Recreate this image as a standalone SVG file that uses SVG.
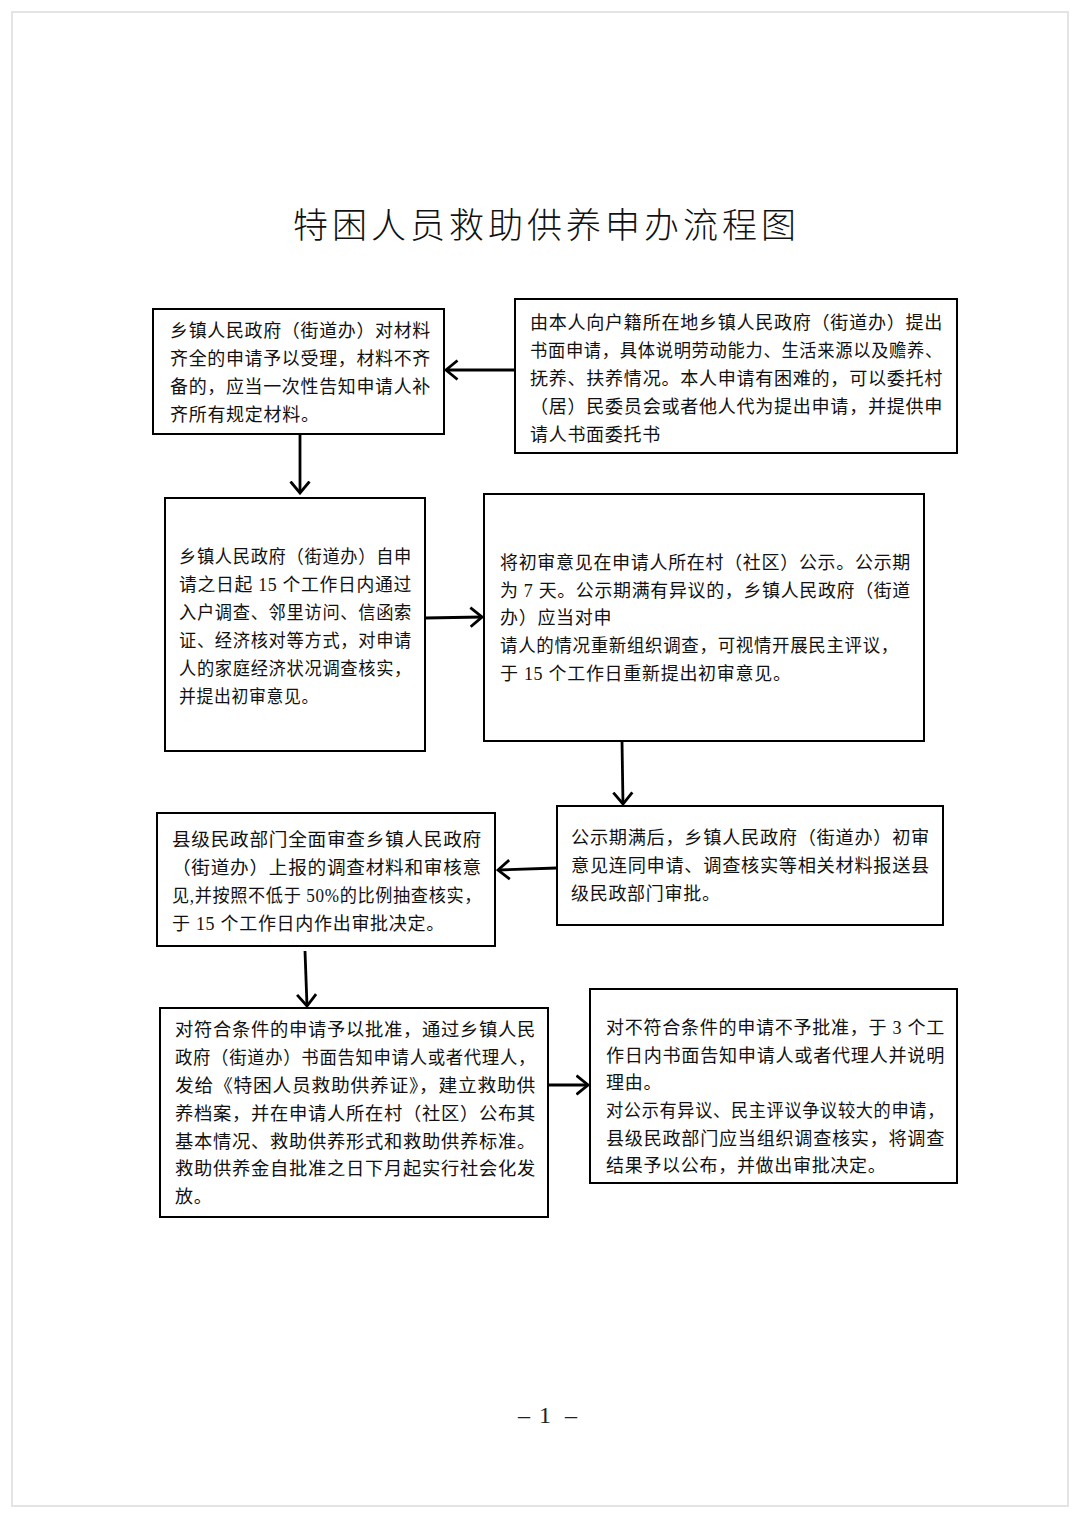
<svg xmlns="http://www.w3.org/2000/svg" width="1080" height="1517" viewBox="0 0 1080 1517">
<style>
.box{fill:#fff;stroke:#000;stroke-width:2}
.t{font-family:"Liberation Serif","Noto Sans CJK SC",serif;font-size:18px;fill:#111;letter-spacing:0.7px}
.title{font-family:"Noto Sans CJK SC",sans-serif;font-size:35px;font-weight:300;fill:#111;letter-spacing:4px}
.pg{font-family:"Liberation Serif",serif;font-size:24px;fill:#222}
.c{stroke:#000;stroke-width:2.8;fill:none}
</style>
<defs>
<marker id="ah" markerUnits="userSpaceOnUse" viewBox="0 0 14 22" markerWidth="14" markerHeight="22" refX="12.5" refY="11" orient="auto">
<path d="M1,1.5 L12.5,11 L1,20.5" fill="none" stroke="#000" stroke-width="2.8"/>
</marker>
</defs>
<rect x="0" y="0" width="1080" height="1517" fill="#fff"/>
<rect x="12" y="12" width="1056" height="1494" fill="none" stroke="#e4e4e4" stroke-width="2"/>
<text class="title" x="293" y="238">特困人员救助供养申办流程图</text>

<g id="n1">
<rect class="box" x="153" y="309" width="291" height="125"/>
<text class="t" x="170" y="337" textLength="261" lengthAdjust="spacingAndGlyphs">乡镇人民政府（街道办）对材料</text>
<text class="t" x="170" y="365" textLength="261" lengthAdjust="spacingAndGlyphs">齐全的申请予以受理，材料不齐</text>
<text class="t" x="170" y="393" textLength="261" lengthAdjust="spacingAndGlyphs">备的，应当一次性告知申请人补</text>
<text class="t" x="170" y="421">齐所有规定材料。</text>
</g>

<g id="n2">
<rect class="box" x="515" y="299" width="442" height="154"/>
<text class="t" x="530" y="329" textLength="413" lengthAdjust="spacingAndGlyphs">由本人向户籍所在地乡镇人民政府（街道办）提出</text>
<text class="t" x="530" y="357" textLength="413" lengthAdjust="spacingAndGlyphs">书面申请，具体说明劳动能力、生活来源以及赡养、</text>
<text class="t" x="530" y="385" textLength="413" lengthAdjust="spacingAndGlyphs">抚养、扶养情况。本人申请有困难的，可以委托村</text>
<text class="t" x="530" y="413" textLength="413" lengthAdjust="spacingAndGlyphs">（居）民委员会或者他人代为提出申请，并提供申</text>
<text class="t" x="530" y="441">请人书面委托书</text>
</g>

<g id="n3">
<rect class="box" x="165" y="498" width="260" height="253"/>
<text class="t" x="179" y="563" textLength="233" lengthAdjust="spacingAndGlyphs">乡镇人民政府（街道办）自申</text>
<text class="t" x="179" y="591" textLength="233" lengthAdjust="spacingAndGlyphs">请之日起 15 个工作日内通过</text>
<text class="t" x="179" y="619" textLength="233" lengthAdjust="spacingAndGlyphs">入户调查、邻里访问、信函索</text>
<text class="t" x="179" y="647" textLength="233" lengthAdjust="spacingAndGlyphs">证、经济核对等方式，对申请</text>
<text class="t" x="179" y="675" textLength="233" lengthAdjust="spacingAndGlyphs">人的家庭经济状况调查核实，</text>
<text class="t" x="179" y="703" textLength="140" lengthAdjust="spacingAndGlyphs">并提出初审意见。</text>
</g>

<g id="n4">
<rect class="box" x="484" y="494" width="440" height="247"/>
<text class="t" x="500" y="569" textLength="411" lengthAdjust="spacingAndGlyphs">将初审意见在申请人所在村（社区）公示。公示期</text>
<text class="t" x="500" y="597" textLength="411" lengthAdjust="spacingAndGlyphs">为 7 天。公示期满有异议的，乡镇人民政府（街道</text>
<text class="t" x="500" y="624">办）应当对申</text>
<text class="t" x="500" y="652" textLength="399" lengthAdjust="spacingAndGlyphs">请人的情况重新组织调查，可视情开展民主评议，</text>
<text class="t" x="500" y="680">于 15 个工作日重新提出初审意见。</text>
</g>

<g id="n5">
<rect class="box" x="557" y="806" width="386" height="119"/>
<text class="t" x="571" y="844" textLength="359" lengthAdjust="spacingAndGlyphs">公示期满后，乡镇人民政府（街道办）初审</text>
<text class="t" x="571" y="872" textLength="359" lengthAdjust="spacingAndGlyphs">意见连同申请、调查核实等相关材料报送县</text>
<text class="t" x="571" y="900">级民政部门审批。</text>
</g>

<g id="n6">
<rect class="box" x="157" y="813" width="338" height="133"/>
<text class="t" x="172" y="846" textLength="310" lengthAdjust="spacingAndGlyphs">县级民政部门全面审查乡镇人民政府</text>
<text class="t" x="172" y="874" textLength="310" lengthAdjust="spacingAndGlyphs">（街道办）上报的调查材料和审核意</text>
<text class="t" x="172" y="902" textLength="310" lengthAdjust="spacingAndGlyphs">见,并按照不低于 50%的比例抽查核实，</text>
<text class="t" x="172" y="930">于 15 个工作日内作出审批决定。</text>
</g>

<g id="n7">
<rect class="box" x="160" y="1008" width="388" height="209"/>
<text class="t" x="175" y="1036" textLength="361" lengthAdjust="spacingAndGlyphs">对符合条件的申请予以批准，通过乡镇人民</text>
<text class="t" x="175" y="1064" textLength="361" lengthAdjust="spacingAndGlyphs">政府（街道办）书面告知申请人或者代理人，</text>
<text class="t" x="175" y="1092" textLength="361" lengthAdjust="spacingAndGlyphs">发给《特困人员救助供养证》，建立救助供</text>
<text class="t" x="175" y="1120" textLength="361" lengthAdjust="spacingAndGlyphs">养档案，并在申请人所在村（社区）公布其</text>
<text class="t" x="175" y="1148" textLength="361" lengthAdjust="spacingAndGlyphs">基本情况、救助供养形式和救助供养标准。</text>
<text class="t" x="175" y="1175" textLength="361" lengthAdjust="spacingAndGlyphs">救助供养金自批准之日下月起实行社会化发</text>
<text class="t" x="175" y="1203">放。</text>
</g>

<g id="n8">
<rect class="box" x="590" y="989" width="367" height="194"/>
<text class="t" x="606" y="1034" textLength="339" lengthAdjust="spacingAndGlyphs">对不符合条件的申请不予批准，于 3 个工</text>
<text class="t" x="606" y="1062" textLength="339" lengthAdjust="spacingAndGlyphs">作日内书面告知申请人或者代理人并说明</text>
<text class="t" x="606" y="1089">理由。</text>
<text class="t" x="606" y="1117" textLength="339" lengthAdjust="spacingAndGlyphs">对公示有异议、民主评议争议较大的申请，</text>
<text class="t" x="606" y="1145" textLength="339" lengthAdjust="spacingAndGlyphs">县级民政部门应当组织调查核实，将调查</text>
<text class="t" x="606" y="1172">结果予以公布，并做出审批决定。</text>
</g>

<g id="connectors">
<line class="c" x1="515" y1="370" x2="446" y2="370" marker-end="url(#ah)"/>
<line class="c" x1="300" y1="435" x2="300" y2="493" marker-end="url(#ah)"/>
<line class="c" x1="425" y1="618" x2="482" y2="617" marker-end="url(#ah)"/>
<line class="c" x1="622" y1="741" x2="623" y2="804" marker-end="url(#ah)"/>
<line class="c" x1="557" y1="868" x2="498" y2="870" marker-end="url(#ah)"/>
<line class="c" x1="305" y1="951" x2="307" y2="1006" marker-end="url(#ah)"/>
<line class="c" x1="548" y1="1085" x2="588" y2="1085" marker-end="url(#ah)"/>
</g>

<g id="page-number">
<text class="pg" x="524" y="1423" text-anchor="middle">–</text>
<text class="pg" x="545" y="1423" text-anchor="middle">1</text>
<text class="pg" x="571" y="1423" text-anchor="middle">–</text>
</g>
</svg>
